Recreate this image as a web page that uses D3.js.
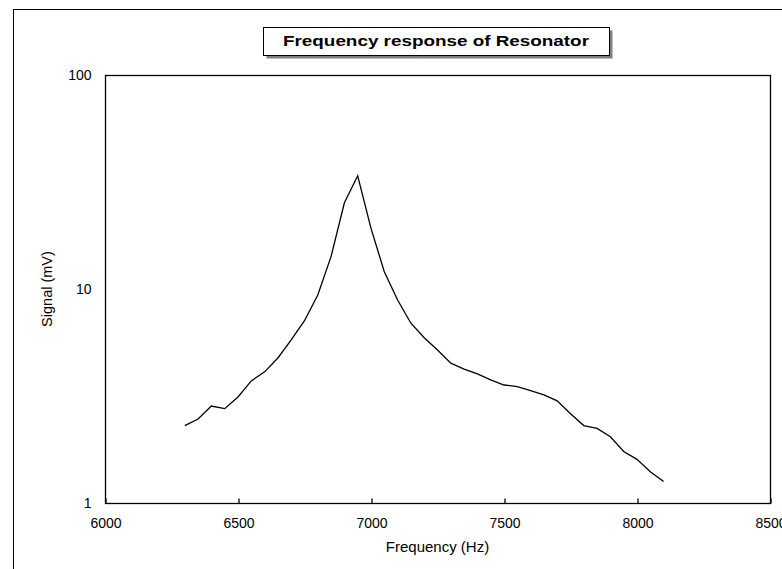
<!DOCTYPE html>
<html>
<head>
<meta charset="utf-8">
<script src="https://cdn.jsdelivr.net/npm/d3@7"></script>
<style>
  body { margin: 0; background: #fff; }
  text { font-family: "Liberation Sans", Arial, sans-serif; }
</style>
</head>
<body>
<div class="chart"></div>
<script>
var svgWidth = 782;
var svgHeight = 569;

// data (Hz, mV)
var frequency = [6300, 6350, 6400, 6450, 6500, 6550, 6600, 6650, 6700, 6750,
  6800, 6850, 6900, 6950, 7000, 7050, 7100, 7150, 7200, 7250,
  7300, 7350, 7400, 7450, 7500, 7550, 7600, 7650, 7700, 7750,
  7800, 7850, 7900, 7950, 8000, 8050, 8100];
var signal = [2.30, 2.47, 2.84, 2.76, 3.13, 3.72, 4.10, 4.76, 5.78, 7.11,
  9.37, 14.2, 25.3, 33.8, 19.2, 12.05, 8.88, 6.92, 5.92, 5.19,
  4.50, 4.22, 4.01, 3.76, 3.56, 3.50, 3.35, 3.20, 3.00, 2.61,
  2.30, 2.23, 2.04, 1.74, 1.60, 1.40, 1.26];
var xTicks = [6000, 6500, 7000, 7500, 8000, 8500];
var yTicks = [1, 10, 100];
var titleText = "Frequency response of Resonator";

var margin = { top: 75, right: 12, bottom: 66, left: 105 };
var width = svgWidth - margin.left - margin.right;
var height = svgHeight - margin.top - margin.bottom;

var svg = d3.select(".chart")
  .append("svg")
  .attr("width", svgWidth)
  .attr("height", svgHeight);

// outer chart frame (runs off the right/bottom edge like the reference)
svg.append("rect")
  .attr("x", 13.5)
  .attr("y", 9.5)
  .attr("width", 820)
  .attr("height", 620)
  .attr("fill", "none")
  .attr("stroke", "#000")
  .attr("stroke-width", 1);

var chart = svg.append("g")
  .attr("transform", "translate(" + margin.left + "," + margin.top + ")");

var xScale = d3.scaleLinear()
  .domain([6000, 8500])
  .range([0, width]);

var yScale = d3.scaleLog()
  .domain([1, 100])
  .range([height, 0]);

// plot area box
chart.append("rect")
  .attr("x", 0.5)
  .attr("y", 0.5)
  .attr("width", width)
  .attr("height", height)
  .attr("fill", "none")
  .attr("stroke", "#000")
  .attr("stroke-width", 1.3);

var bottomAxis = d3.axisBottom(xScale)
  .tickValues(xTicks)
  .tickSizeInner(-5)
  .tickSizeOuter(0)
  .tickPadding(15)
  .tickFormat(d3.format("d"));

var leftAxis = d3.axisLeft(yScale)
  .tickValues(yTicks)
  .tickSize(0)
  .tickPadding(14)
  .tickFormat(d3.format("d"));

var gx = chart.append("g")
  .attr("transform", "translate(0.5," + (height + 0.5) + ")")
  .call(bottomAxis);
gx.select(".domain").remove();
gx.selectAll("line").attr("stroke", "#000").attr("stroke-width", 1.3);
gx.selectAll("text").attr("font-size", 14).attr("fill", "#000")
  .style("font-family", "Liberation Sans, Arial, sans-serif");

var gy = chart.append("g")
  .attr("transform", "translate(0.5,0.5)")
  .call(leftAxis);
gy.select(".domain").remove();
gy.selectAll("text").attr("font-size", 14).attr("fill", "#000")
  .style("font-family", "Liberation Sans, Arial, sans-serif");

// the response curve
var line = d3.line()
  .x(function(d, i) { return xScale(frequency[i]); })
  .y(function(d) { return yScale(d); });

chart.append("path")
  .datum(signal)
  .attr("d", line)
  .attr("fill", "none")
  .attr("stroke", "#000")
  .attr("stroke-width", 1.3);

// axis titles
chart.append("text")
  .attr("x", width / 2)
  .attr("y", height + 49)
  .attr("text-anchor", "middle")
  .attr("font-size", 15)
  .text("Frequency (Hz)");

chart.append("text")
  .attr("transform", "rotate(-90)")
  .attr("x", -height / 2)
  .attr("y", -53)
  .attr("text-anchor", "middle")
  .attr("font-size", 14.5)
  .text("Signal (mV)");

// title box with drop shadow
var tb = { x: 263, y: 27, w: 346, h: 28 };
svg.append("rect")
  .attr("x", tb.x + 3.5)
  .attr("y", tb.y + 3.5)
  .attr("width", tb.w)
  .attr("height", tb.h)
  .attr("fill", "#808080");
svg.append("rect")
  .attr("x", tb.x + 0.5)
  .attr("y", tb.y + 0.5)
  .attr("width", tb.w)
  .attr("height", tb.h)
  .attr("fill", "#fff")
  .attr("stroke", "#000")
  .attr("stroke-width", 1);
svg.append("text")
  .attr("x", tb.x + tb.w / 2)
  .attr("y", tb.y + 19)
  .attr("text-anchor", "middle")
  .attr("font-size", 15)
  .attr("font-weight", "bold")
  .attr("textLength", 306)
  .attr("lengthAdjust", "spacingAndGlyphs")
  .text(titleText);
</script>
</body>
</html>
